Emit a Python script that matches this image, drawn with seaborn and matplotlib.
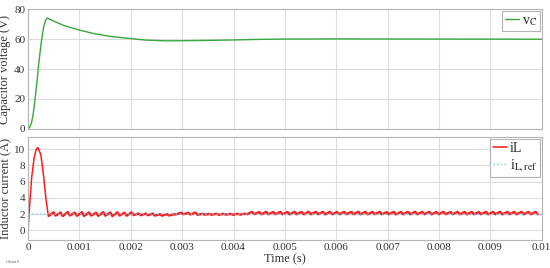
import numpy as np
import pandas as pd
import matplotlib
matplotlib.use("Agg")
import matplotlib.pyplot as plt
import seaborn as sns

# Capacitor voltage knots (time in s, volts)
vc_t = [0, 0.00003, 0.00007, 0.0001, 0.00013, 0.00017, 0.0002, 0.00025, 0.0003,
        0.00034, 0.00037, 0.0005, 0.0007, 0.001, 0.0013, 0.0016, 0.002, 0.0023,
        0.0027, 0.003, 0.0035, 0.004, 0.0045, 0.005, 0.006, 0.008, 0.01]
vc_v = [0, 0.8, 4.5, 10.0, 18.0, 30.0, 41.0, 56.0, 67.5,
        72.5, 74.0, 72.0, 69.0, 66.0, 63.5, 61.8, 60.3, 59.3,
        58.8, 58.9, 59.1, 59.4, 59.8, 60.0, 60.1, 60.0, 59.9]

# Inductor current start-up transient
il_start_t = [0, 0.00003, 0.00007, 0.00012, 0.00016, 0.00019, 0.00025, 0.0003, 0.00035, 0.00039, 0.0004]
il_start_v = [0, 3.0, 6.5, 9.0, 10.0, 10.2, 9.3, 6.8, 3.8, 2.0, 1.78]

# switching ripple after start-up: valley / peak per switching period
ripple_t0 = 0.0004
ripple_period = 0.000138
il_low = [1.78, 1.82, 1.76, 1.83, 1.80, 1.77, 1.82, 1.79, 1.81, 1.76, 1.82, 1.80,
          1.88, 1.86, 1.87,
          1.82, 1.81, 1.83,
          1.97, 1.98, 1.96,
          1.92, 1.93, 1.92, 1.91, 1.93, 1.92, 1.94,
          1.98, 1.99, 1.97, 1.98, 1.99, 1.98, 1.97, 1.99, 1.98, 1.98,
          1.99, 1.97, 1.98, 1.98, 1.99, 1.98, 1.97, 1.98, 1.99, 1.98,
          1.98, 1.97, 1.99, 1.98, 1.98, 1.99, 1.97, 1.98, 1.98, 1.99,
          1.98, 1.97, 1.98, 1.99, 1.98, 1.98, 1.97, 1.99, 1.98, 1.98, 1.98, 1.98]
il_high = [2.22, 2.19, 2.25, 2.18, 2.23, 2.21, 2.17, 2.24, 2.20, 2.22, 2.18, 2.21,
           2.08, 2.06, 2.07,
           1.99, 2.00, 1.98,
           2.18, 2.16, 2.19,
           2.04, 2.03, 2.05, 2.04, 2.03, 2.04, 2.05,
           2.28, 2.26, 2.29, 2.27, 2.28, 2.26, 2.28, 2.27, 2.29, 2.28,
           2.27, 2.28, 2.26, 2.28, 2.27, 2.29, 2.28, 2.27, 2.28, 2.26,
           2.28, 2.27, 2.28, 2.29, 2.27, 2.28, 2.26, 2.28, 2.27, 2.28,
           2.27, 2.28, 2.26, 2.28, 2.27, 2.29, 2.28, 2.27, 2.28, 2.27, 2.28, 2.28]

# reference current
ref_t = [0, 0.00001, 0.01]
ref_v = [3.8, 2.0, 2.0]

x_ticks = [0, 0.001, 0.002, 0.003, 0.004, 0.005, 0.006, 0.007, 0.008, 0.009, 0.01]
x_tick_labels = ["0", "0.001", "0.002", "0.003", "0.004", "0.005",
                 "0.006", "0.007", "0.008", "0.009", "0.01"]

# build the ripple time series (valley at start of period, peak later in period)
rip_t = []
rip_v = []
for k in range(len(il_low)):
    tk = ripple_t0 + k * ripple_period
    rip_t += [tk, tk + ripple_period * 0.7]
    rip_v += [il_low[k], il_high[k]]
keep = [j for j, t in enumerate(rip_t) if t <= 0.01]
rip_t = [rip_t[j] for j in keep]
rip_v = [rip_v[j] for j in keep]

vc_df = pd.DataFrame({"t": vc_t, "v": vc_v})
start_df = pd.DataFrame({"t": il_start_t, "i": il_start_v})
rip_df = pd.DataFrame({"t": rip_t, "i": rip_v})
ref_df = pd.DataFrame({"t": ref_t, "i": ref_v})

sns.set_style("whitegrid")
plt.rcParams['font.family'] = ['Liberation Serif', 'DejaVu Serif']
plt.rcParams['mathtext.fontset'] = 'stix'

fig = plt.figure(figsize=(5.5, 2.68), dpi=100)
ax1 = fig.add_axes([0.051, 0.519, 0.934, 0.447])
ax2 = fig.add_axes([0.051, 0.104, 0.934, 0.385])

grid_c = "#dcdcdc"
edge_c = "#b4b4b4"
txt_c = "#333333"
red = "#ff1a1a"

sns.lineplot(data=vc_df, x="t", y="v", ax=ax1, color="#3aa63a", lw=1.0,
             estimator=None, label=r"v$_\mathrm{C}$")
sns.lineplot(data=start_df, x="t", y="i", ax=ax2, color=red, lw=1.1,
             estimator=None, label="iL")
sns.lineplot(data=rip_df, x="t", y="i", ax=ax2, color=red, lw=1.7,
             estimator=None)
sns.lineplot(data=ref_df, x="t", y="i", ax=ax2, color="#6cc8e8", lw=1.0,
             estimator=None, linestyle=":", label=r"i$_\mathrm{L,ref}$")

for ax in (ax1, ax2):
    ax.set_xlim(0, 0.01)
    ax.set_xticks(x_ticks)
    ax.grid(True, color=grid_c, lw=0.8)
    for s in ax.spines.values():
        s.set_color(edge_c)
        s.set_linewidth(0.8)
    ax.tick_params(labelsize=8, colors=txt_c, length=0, pad=2)

ax1.set_ylim(0, 80)
ax1.set_yticks([0, 20, 40, 60, 80])
ax1.set_xticklabels([])
ax1.set_xlabel("")
ax1.set_ylabel("Capacitor voltage (V)", fontsize=9, color=txt_c, labelpad=2)

ax2.set_ylim(-1.2, 11.5)
ax2.set_yticks([0, 2, 4, 6, 8, 10])
ax2.set_xticklabels(x_tick_labels)
ax2.set_xlabel("Time (s)", fontsize=9, color=txt_c, labelpad=1)
ax2.set_ylabel("Inductor current (A)", fontsize=9, color=txt_c, labelpad=2)

for ax in (ax1, ax2):
    leg = ax.legend(loc="upper right", fontsize=10, handlelength=1.0, handletextpad=0.2,
                    borderpad=0.2, borderaxespad=0.15, labelspacing=0.2,
                    fancybox=False, framealpha=1)
    leg.get_frame().set_edgecolor(edge_c)
    leg.get_frame().set_linewidth(0.8)

fig.text(0.01, 0.02, "Offset 0", fontsize=3, color="#555555")

fig.savefig("out.png", dpi=100)
